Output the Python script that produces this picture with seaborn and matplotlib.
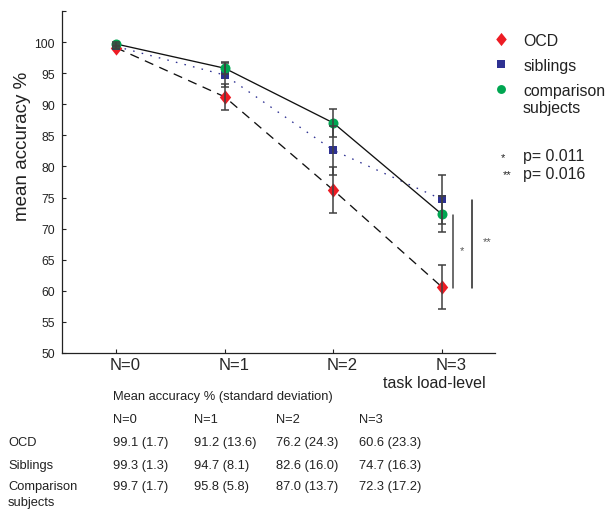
import numpy as np
import pandas as pd
import matplotlib
matplotlib.use("Agg")
import matplotlib.pyplot as plt
import seaborn as sns
from matplotlib.lines import Line2D
from matplotlib.transforms import ScaledTranslation

# ---------------- data ----------------
load_levels = ["N=0", "N=1", "N=2", "N=3"]
groups = ["OCD", "siblings", "comparison"]
acc_ocd = [99.1, 91.2, 76.2, 60.6]
acc_sib = [99.3, 94.7, 82.6, 74.7]
acc_cmp = [99.7, 95.8, 87.0, 72.3]
err_ocd = [0.26, 2.07, 3.7, 3.55]
err_sib = [0.32, 1.97, 3.9, 3.95]
err_cmp = [0.29, 0.98, 2.3, 2.9]
sd_ocd = [1.7, 13.6, 24.3, 23.3]
sd_sib = [1.3, 8.1, 16.0, 16.3]
sd_cmp = [1.7, 5.8, 13.7, 17.2]
table_rows = ["OCD", "Siblings", "Comparison"]
yticks = [50, 55, 60, 65, 70, 75, 80, 85, 90, 95, 100]
p_labels = ["p= 0.011", "p= 0.016"]

# ---------------- style ----------------
sns.set_theme(style="ticks")
plt.rcParams["font.family"] = ["Liberation Sans", "DejaVu Sans"]

W, H = 606, 510
fig = plt.figure(figsize=(W / 100, H / 100), dpi=100)
L, R, T, B = 62, 495, 12, 354
ax = fig.add_axes([L / W, 1 - B / H, (R - L) / W, (B - T) / H])

def fx(px):
    return px / W

def fy(py):
    return 1 - py / H

xs = list(range(len(load_levels)))
acc = {"OCD": acc_ocd, "siblings": acc_sib, "comparison": acc_cmp}
err = {"OCD": err_ocd, "siblings": err_sib, "comparison": err_cmp}
df = pd.DataFrame({
    "x": xs * 3,
    "acc": acc_ocd + acc_sib + acc_cmp,
    "group": sum([[g] * 4 for g in groups], []),
})

red, navy, green = "#ED1C24", "#2E3192", "#00A651"
line_col = {"OCD": "#111111", "siblings": navy, "comparison": "#111111"}
dashes = {"OCD": (7, 5), "siblings": (1.2, 5.5), "comparison": ""}
sns.lineplot(data=df, x="x", y="acc", hue="group", style="group",
             palette=line_col, dashes=dashes, linewidth=0.95,
             legend=False, ax=ax, zorder=1, estimator=None)

diamond = [(0, 1), (0.8, 0), (0, -1), (-0.8, 0), (0, 1)]
mk = {"OCD": (diamond, red, 105), "siblings": ("s", navy, 40), "comparison": ("o", green, 52)}
for g in groups:
    m, c, s = mk[g]
    sns.scatterplot(data=df[df.group == g], x="x", y="acc", marker=m, color=c,
                    s=s, linewidth=0, ax=ax, zorder=2, legend=False)

for g in groups:
    ax.errorbar(xs, acc[g], yerr=err[g], fmt="none", ecolor="#404040",
                elinewidth=1.1, capsize=2.7, capthick=1.1, zorder=3)

# significance bars
ax.plot([3.10, 3.10], [60.5, 72.2], color="#444444", lw=1.1, zorder=1)
ax.plot([3.276, 3.276], [60.5, 74.6], color="#222222", lw=1.1, zorder=1)
ax.text(3.184, 66.6, "*", color="#555555", fontsize=8, ha="center", va="center")
ax.text(3.414, 68.0, "**", color="#555555", fontsize=8, ha="center", va="center")

ax.set_xlim(-0.497, 3.488)
ax.set_ylim(50, 105)
ax.set_xticks(xs)
ax.set_xticklabels(load_levels, fontsize=12)
ax.set_yticks(yticks + [105])
ax.set_yticklabels([str(v) for v in yticks] + [""], fontsize=8.7, color="#222222")
ax.tick_params(axis="both", direction="in", length=3, width=0.8, color="#222222")
ax.tick_params(axis="x", pad=3)
ax.tick_params(axis="y", pad=5)
off = ScaledTranslation(9 / 100, 0, fig.dpi_scale_trans)
for lab in ax.get_xticklabels():
    lab.set_transform(lab.get_transform() + off)
ax.set_xlabel("")
ax.set_ylabel("")
for sp in ["top", "right"]:
    ax.spines[sp].set_visible(False)
for sp in ["left", "bottom"]:
    ax.spines[sp].set_color("#222222")
    ax.spines[sp].set_linewidth(0.9)

fig.text(fx(23), fy(146), "mean accuracy %", rotation=90, fontsize=13.5,
         ha="center", va="center", color="#222222")
fig.text(fx(434.5), fy(384), "task load-level", fontsize=11.5, ha="center",
         va="center", color="#222222")

# legend
handles = [
    Line2D([], [], ls="none", marker=diamond, color=red, markersize=9.5, markeredgewidth=0),
    Line2D([], [], ls="none", marker="s", color=navy, markersize=6.0, markeredgewidth=0),
    Line2D([], [], ls="none", marker="o", color=green, markersize=6.4, markeredgewidth=0),
]
leg = fig.legend(handles, ["OCD", "siblings", "comparison"], loc="upper left",
                 bbox_to_anchor=(fx(493), fy(34)), frameon=False, fontsize=11.4,
                 borderpad=0, borderaxespad=0, handlelength=1.0,
                 handletextpad=0.9, labelspacing=0.62)
for t in leg.get_texts():
    t.set_color("#222222")
fig.text(fx(523), fy(109), "subjects", fontsize=11.4, ha="left", va="center", color="#222222")
fig.text(fx(503), fy(158), "*", fontsize=8, ha="center", va="center", color="#222222")
fig.text(fx(507), fy(175), "**", fontsize=8, ha="center", va="center", color="#222222")
fig.text(fx(523), fy(156), p_labels[0], fontsize=11.4, ha="left", va="center", color="#222222")
fig.text(fx(523), fy(174), p_labels[1], fontsize=11.4, ha="left", va="center", color="#222222")

# table
tfs = 9.3
tc = "#222222"
fig.text(fx(113), fy(397), "Mean accuracy % (standard deviation)", fontsize=tfs,
         ha="left", va="center", color=tc)
col_x = [113, 194, 276, 359]
for cx, lvl in zip(col_x, load_levels):
    fig.text(fx(cx), fy(420), lvl, fontsize=tfs, ha="left", va="center", color=tc)
row_y = [443, 466, 487]
for ry, name, means, sds in zip(row_y, table_rows,
                                [acc_ocd, acc_sib, acc_cmp], [sd_ocd, sd_sib, sd_cmp]):
    fig.text(fx(8), fy(ry), name, fontsize=tfs, ha="left", va="center", color=tc)
    for cx, m, s in zip(col_x, means, sds):
        fig.text(fx(cx), fy(ry), f"{m:.1f} ({s:.1f})", fontsize=tfs, ha="left",
                 va="center", color=tc)
fig.text(fx(8), fy(503), "subjects", fontsize=tfs, ha="left", va="center", color=tc)

fig.savefig("out.png", dpi=100)
